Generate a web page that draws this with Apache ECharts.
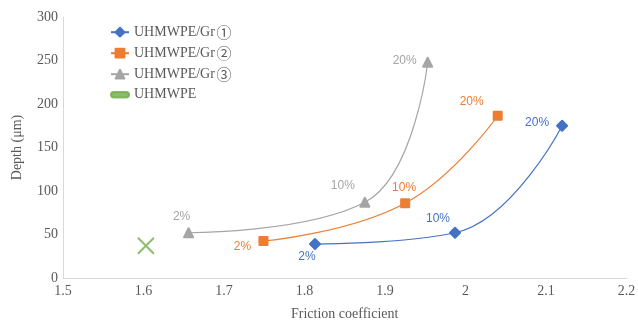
<!DOCTYPE html>
<html>
<head>
<meta charset="utf-8">
<script src="https://cdn.jsdelivr.net/npm/echarts@6/dist/echarts.min.js"></script>
<style>
  html, body { margin: 0; padding: 0; background: #fff; }
  #chart { width: 638px; height: 320px; }
</style>
</head>
<body>
<div id="chart"></div>
<script>
// Wear depth versus friction coefficient for graphene-filled UHMWPE
const contentLabels = ['2%', '10%', '20%'];

const frictionGr1 = [1.813, 1.987, 2.120];
const depthGr1 = [39, 52, 175];

const frictionGr2 = [1.749, 1.925, 2.040];
const depthGr2 = [42.5, 86, 186.5];

const frictionGr3 = [1.656, 1.875, 1.953];
const depthGr3 = [52, 87, 248];

const frictionPure = [1.603];
const depthPure = [37];

const seriesNames = ['UHMWPE/Gr\u2460', 'UHMWPE/Gr\u2461', 'UHMWPE/Gr\u2462', 'UHMWPE'];

// label offsets (px) from each marker centre
const labelOffsetsGr1 = [[-8, 13], [-17, -14], [-25, -3]];
const labelOffsetsGr2 = [[-21, 6], [-1, -15], [-26, -14]];
const labelOffsetsGr3 = [[-7, -16], [-22, -17], [-23, -2]];

const serif = "'Liberation Serif', 'Times New Roman', serif";
const sans = "'Liberation Sans', Arial, sans-serif";

function buildPoints(xs, ys, offsets) {
  return xs.map((x, i) => ({
    value: [x, ys[i]],
    label: { offset: offsets[i] }
  }));
}

function curveSeries(name, color, symbol, size, xs, ys, offsets) {
  return {
    name: name,
    type: 'line',
    smooth: 0.45,
    symbol: symbol,
    symbolSize: size,
    showAllSymbol: true,
    lineStyle: { color: color, width: 1.2 },
    itemStyle: { color: color, borderColor: color, borderWidth: 2, borderJoin: 'round' },
    label: {
      show: true,
      position: 'inside',
      color: color,
      fontFamily: sans,
      fontSize: 12,
      formatter: p => contentLabels[p.dataIndex]
    },
    emphasis: { disabled: true },
    data: buildPoints(xs, ys, offsets),
    z: 3
  };
}

const chart = echarts.init(document.getElementById('chart'), null, { renderer: 'canvas' });

chart.setOption({
  animation: false,
  backgroundColor: '#ffffff',
  grid: { left: 63, right: 11.5, top: 17, bottom: 42, containLabel: false, outerBoundsMode: 'none' },
  legend: {
    orient: 'vertical',
    left: 110,
    top: 24.7,
    padding: 0,
    itemWidth: 18,
    itemHeight: 11,
    itemGap: 6.0,
    // circled sample numbers are set in a CJK face so they render full-size
    formatter: name => name.replace(/([\u2460-\u2473])/g, '{c|$1}'),
    textStyle: {
      fontFamily: serif, fontSize: 14, color: '#595959', lineHeight: 14,
      rich: {
        c: {
          fontFamily: "'Noto Sans CJK SC', sans-serif", fontSize: 15, color: '#595959',
          lineHeight: 14, padding: [0, 0, 0, 1.5]
        }
      }
    },
    data: [
      { name: seriesNames[0] },
      { name: seriesNames[1] },
      { name: seriesNames[2] },
      { name: seriesNames[3], icon: 'path://M3,0h14a3,3 0 0 1 0,6h-14a3,3 0 0 1 0,-6z' }
    ]
  },
  xAxis: {
    type: 'value',
    min: 1.5,
    max: 2.2,
    interval: 0.1,
    name: 'Friction coefficient',
    nameLocation: 'middle',
    nameGap: 29,
    nameTextStyle: { fontFamily: serif, fontSize: 14, color: '#595959' },
    axisLine: { show: true, lineStyle: { color: '#D9D9D9', width: 1 } },
    axisTick: { show: false },
    splitLine: { show: false },
    axisLabel: { fontFamily: serif, fontSize: 14, color: '#595959', margin: 6 }
  },
  yAxis: {
    type: 'value',
    min: 0,
    max: 300,
    interval: 50,
    name: 'Depth (\u03bcm)',
    nameLocation: 'middle',
    nameGap: 39,
    nameTextStyle: { fontFamily: serif, fontSize: 14, color: '#595959' },
    axisLine: { show: true, lineStyle: { color: '#D9D9D9', width: 1 } },
    axisTick: { show: false },
    splitLine: { show: false },
    axisLabel: { fontFamily: serif, fontSize: 14, color: '#595959', margin: 5 }
  },
  series: [
    curveSeries(seriesNames[0], '#4472C4', 'diamond', 10, frictionGr1, depthGr1, labelOffsetsGr1),
    curveSeries(seriesNames[1], '#ED7D31', 'rect', 8, frictionGr2, depthGr2, labelOffsetsGr2),
    curveSeries(seriesNames[2], '#A5A5A5', 'triangle', 9, frictionGr3, depthGr3, labelOffsetsGr3),
    {
      name: seriesNames[3],
      type: 'scatter',
      symbol: 'path://M0,0L16,16M16,0L0,16',
      symbolSize: 16,
      itemStyle: { color: '#70AD47', borderColor: '#70AD47', borderWidth: 2 },
      emphasis: { disabled: true },
      data: frictionPure.map((x, i) => [x, depthPure[i]]),
      z: 3
    }
  ]
});
</script>
</body>
</html>
